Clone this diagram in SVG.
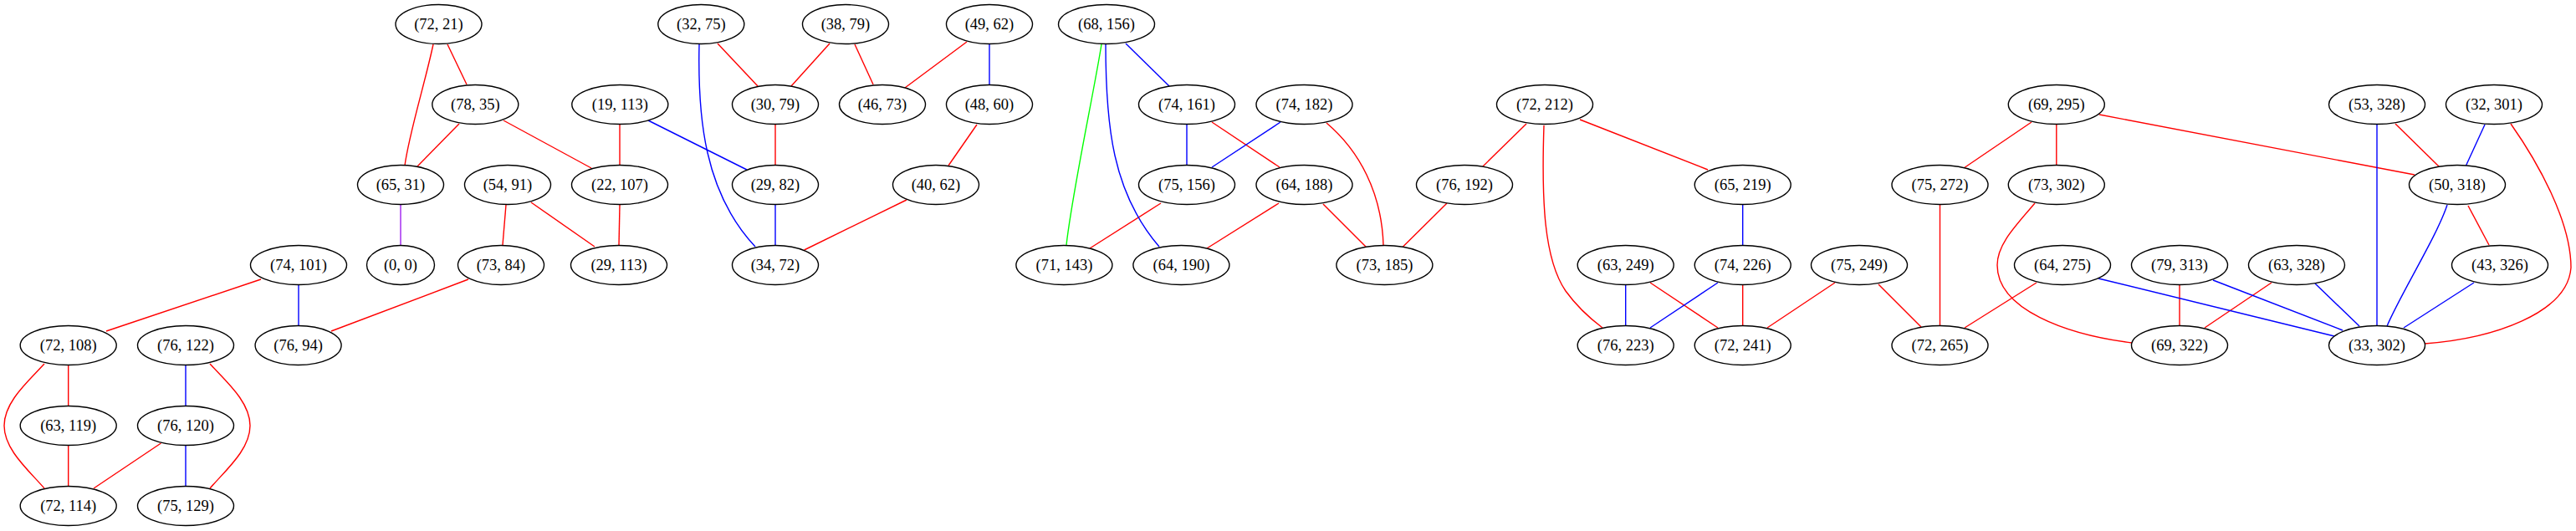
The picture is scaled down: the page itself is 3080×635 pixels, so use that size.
<svg xmlns="http://www.w3.org/2000/svg" width="3080" height="635" viewBox="0 0 3080 635">
<style>
.n ellipse{fill:#fff;stroke:#000;stroke-width:1.4}
.n text{font-family:"Liberation Serif","Times New Roman",serif;font-size:18.5px;text-anchor:middle;fill:#000}
#edges path{fill:none;stroke-width:1.4}
.r{stroke:#ff0000}.b{stroke:#0000ff}.g{stroke:#00ff00}.p{stroke:#a020f0}
</style>
<rect width="3080" height="635" fill="#fff"/>
<g id="edges">
<path class="r" d="M518,53 C508,100 489,160 484,198"/>
<path class="r" d="M535,53 L558,101"/>
<path class="r" d="M549,148 L499,199"/>
<path class="r" d="M602,144 L707,201"/>
<path class="r" d="M741,149 L741,197"/>
<path class="r" d="M605,245 L601,293"/>
<path class="r" d="M635,242 L711,295"/>
<path class="r" d="M741,245 L740,293"/>
<path class="r" d="M312,334 L127,396"/>
<path class="r" d="M560,334 L396,396"/>
<path class="r" d="M81.7,437 L81.7,485"/>
<path class="r" d="M53,435 C35,455 5,480 5,509 C5,538 35,563 53,584"/>
<path class="r" d="M81.7,533 L81.7,581"/>
<path class="r" d="M251,435 C269,455 299,480 299,509 C299,538 269,563 251,584"/>
<path class="r" d="M192.5,530 L112,584"/>
<path class="r" d="M858,52 L906,103"/>
<path class="r" d="M992,52 L946,103"/>
<path class="r" d="M1022,53 L1044,101"/>
<path class="r" d="M1156,50 L1082,105"/>
<path class="r" d="M927,149 L927,197"/>
<path class="r" d="M1168,149 L1134,198"/>
<path class="r" d="M1084,239 L961.5,299"/>
<path class="r" d="M1449,146 L1530,200"/>
<path class="r" d="M1388,243 L1303,297"/>
<path class="r" d="M1529,243 L1443,297"/>
<path class="r" d="M1586,147 C1625,180 1652,230 1654,293"/>
<path class="r" d="M1582,244 L1633,295"/>
<path class="r" d="M1730,243 L1677.5,295"/>
<path class="r" d="M1825,148 L1773,199"/>
<path class="r" d="M1846,150 C1843,240 1846,310 1872,348 C1885,366 1900,380 1916,392"/>
<path class="r" d="M1889,143 L2042,203"/>
<path class="r" d="M1973,338 L2054,392"/>
<path class="r" d="M2083.7,341 L2083.7,389"/>
<path class="r" d="M2194,338 L2113,392"/>
<path class="r" d="M2246,340 L2297,391"/>
<path class="r" d="M2429,146 L2348,201"/>
<path class="r" d="M2458.8,149 L2458.8,197"/>
<path class="r" d="M2510,137 L2887,209"/>
<path class="r" d="M2864,148 L2916,199"/>
<path class="r" d="M3002,148 C3035,195 3074,265 3074,320 C3070,375 2980,405 2899,411"/>
<path class="r" d="M2951,246 L2976,293"/>
<path class="r" d="M2433,243 C2410,270 2388,292 2388,317 C2388,370 2470,400 2549,410"/>
<path class="r" d="M2319.5,245 L2319.5,389"/>
<path class="r" d="M2435,338 L2349,392"/>
<path class="r" d="M2606,341 L2606,389"/>
<path class="r" d="M2716,338 L2636,392"/>
<path class="b" d="M357,341 L357,389"/>
<path class="b" d="M222,437 L222,485"/>
<path class="b" d="M222,533 L222,581"/>
<path class="b" d="M775,144 L893,203"/>
<path class="b" d="M836,53 C834,140 842,230 903,295"/>
<path class="b" d="M1183,53 L1183,101"/>
<path class="b" d="M927,245 L927,293"/>
<path class="b" d="M1322,53 C1322,150 1330,230 1386,295"/>
<path class="b" d="M1346,52 L1398,103"/>
<path class="b" d="M1419,149 L1419,197"/>
<path class="b" d="M1531,146 L1449,200"/>
<path class="b" d="M2083.7,245 L2083.7,293"/>
<path class="b" d="M1943.7,341 L1943.7,389"/>
<path class="b" d="M2054,338 L1973,392"/>
<path class="b" d="M2842,149 L2842,389"/>
<path class="b" d="M2971,149 L2948.5,198"/>
<path class="b" d="M2926,245 C2914,282 2870,352 2854,390"/>
<path class="b" d="M2509,333 L2791,402"/>
<path class="b" d="M2646,335 L2801,395"/>
<path class="b" d="M2768,339 L2821,390"/>
<path class="b" d="M2958,338 L2874,392"/>
<path class="g" d="M1317,53 C1308,110 1282,230 1275,293"/>
<path class="p" d="M479,245 L479,293"/>
</g>
<g id="n72_21" class="n"><ellipse cx="524.5" cy="29" rx="51.5" ry="23.5"/><text x="524.5" y="35">(72, 21)</text></g>
<g id="n78_35" class="n"><ellipse cx="568.3" cy="125" rx="51.5" ry="23.5"/><text x="568.3" y="131">(78, 35)</text></g>
<g id="n19_113" class="n"><ellipse cx="741.3" cy="125" rx="57.5" ry="23.5"/><text x="741.3" y="131">(19, 113)</text></g>
<g id="n65_31" class="n"><ellipse cx="479" cy="221" rx="51.5" ry="23.5"/><text x="479" y="227">(65, 31)</text></g>
<g id="n54_91" class="n"><ellipse cx="607" cy="221" rx="51.5" ry="23.5"/><text x="607" y="227">(54, 91)</text></g>
<g id="n22_107" class="n"><ellipse cx="741" cy="221" rx="57.5" ry="23.5"/><text x="741" y="227">(22, 107)</text></g>
<g id="n74_101" class="n"><ellipse cx="357" cy="317" rx="57.5" ry="23.5"/><text x="357" y="323">(74, 101)</text></g>
<g id="n0_0" class="n"><ellipse cx="479" cy="317" rx="40.5" ry="23.5"/><text x="479" y="323">(0, 0)</text></g>
<g id="n73_84" class="n"><ellipse cx="599" cy="317" rx="51.5" ry="23.5"/><text x="599" y="323">(73, 84)</text></g>
<g id="n29_113" class="n"><ellipse cx="740" cy="317" rx="57.5" ry="23.5"/><text x="740" y="323">(29, 113)</text></g>
<g id="n72_108" class="n"><ellipse cx="81.7" cy="413" rx="57.5" ry="23.5"/><text x="81.7" y="419">(72, 108)</text></g>
<g id="n76_122" class="n"><ellipse cx="222" cy="413" rx="57.5" ry="23.5"/><text x="222" y="419">(76, 122)</text></g>
<g id="n76_94" class="n"><ellipse cx="356.6" cy="413" rx="51.5" ry="23.5"/><text x="356.6" y="419">(76, 94)</text></g>
<g id="n63_119" class="n"><ellipse cx="81.7" cy="509" rx="57.5" ry="23.5"/><text x="81.7" y="515">(63, 119)</text></g>
<g id="n76_120" class="n"><ellipse cx="222" cy="509" rx="57.5" ry="23.5"/><text x="222" y="515">(76, 120)</text></g>
<g id="n72_114" class="n"><ellipse cx="81.7" cy="605" rx="57.5" ry="23.5"/><text x="81.7" y="611">(72, 114)</text></g>
<g id="n75_129" class="n"><ellipse cx="222" cy="605" rx="57.5" ry="23.5"/><text x="222" y="611">(75, 129)</text></g>
<g id="n32_75" class="n"><ellipse cx="838.3" cy="29" rx="51.5" ry="23.5"/><text x="838.3" y="35">(32, 75)</text></g>
<g id="n38_79" class="n"><ellipse cx="1011" cy="29" rx="51.5" ry="23.5"/><text x="1011" y="35">(38, 79)</text></g>
<g id="n49_62" class="n"><ellipse cx="1183" cy="29" rx="51.5" ry="23.5"/><text x="1183" y="35">(49, 62)</text></g>
<g id="n68_156" class="n"><ellipse cx="1323" cy="29" rx="57.5" ry="23.5"/><text x="1323" y="35">(68, 156)</text></g>
<g id="n30_79" class="n"><ellipse cx="927" cy="125" rx="51.5" ry="23.5"/><text x="927" y="131">(30, 79)</text></g>
<g id="n46_73" class="n"><ellipse cx="1055" cy="125" rx="51.5" ry="23.5"/><text x="1055" y="131">(46, 73)</text></g>
<g id="n48_60" class="n"><ellipse cx="1183" cy="125" rx="51.5" ry="23.5"/><text x="1183" y="131">(48, 60)</text></g>
<g id="n74_161" class="n"><ellipse cx="1419" cy="125" rx="57.5" ry="23.5"/><text x="1419" y="131">(74, 161)</text></g>
<g id="n74_182" class="n"><ellipse cx="1559.5" cy="125" rx="57.5" ry="23.5"/><text x="1559.5" y="131">(74, 182)</text></g>
<g id="n29_82" class="n"><ellipse cx="927" cy="221" rx="51.5" ry="23.5"/><text x="927" y="227">(29, 82)</text></g>
<g id="n40_62" class="n"><ellipse cx="1119" cy="221" rx="51.5" ry="23.5"/><text x="1119" y="227">(40, 62)</text></g>
<g id="n75_156" class="n"><ellipse cx="1419" cy="221" rx="57.5" ry="23.5"/><text x="1419" y="227">(75, 156)</text></g>
<g id="n64_188" class="n"><ellipse cx="1559.5" cy="221" rx="57.5" ry="23.5"/><text x="1559.5" y="227">(64, 188)</text></g>
<g id="n34_72" class="n"><ellipse cx="927" cy="317" rx="51.5" ry="23.5"/><text x="927" y="323">(34, 72)</text></g>
<g id="n71_143" class="n"><ellipse cx="1272.4" cy="317" rx="57.5" ry="23.5"/><text x="1272.4" y="323">(71, 143)</text></g>
<g id="n64_190" class="n"><ellipse cx="1412.4" cy="317" rx="57.5" ry="23.5"/><text x="1412.4" y="323">(64, 190)</text></g>
<g id="n73_185" class="n"><ellipse cx="1655.4" cy="317" rx="57.5" ry="23.5"/><text x="1655.4" y="323">(73, 185)</text></g>
<g id="n72_212" class="n"><ellipse cx="1847" cy="125" rx="57.5" ry="23.5"/><text x="1847" y="131">(72, 212)</text></g>
<g id="n76_192" class="n"><ellipse cx="1751" cy="221" rx="57.5" ry="23.5"/><text x="1751" y="227">(76, 192)</text></g>
<g id="n65_219" class="n"><ellipse cx="2083.7" cy="221" rx="57.5" ry="23.5"/><text x="2083.7" y="227">(65, 219)</text></g>
<g id="n63_249" class="n"><ellipse cx="1943.7" cy="317" rx="57.5" ry="23.5"/><text x="1943.7" y="323">(63, 249)</text></g>
<g id="n74_226" class="n"><ellipse cx="2083.7" cy="317" rx="57.5" ry="23.5"/><text x="2083.7" y="323">(74, 226)</text></g>
<g id="n75_249" class="n"><ellipse cx="2223" cy="317" rx="57.5" ry="23.5"/><text x="2223" y="323">(75, 249)</text></g>
<g id="n76_223" class="n"><ellipse cx="1943.7" cy="413" rx="57.5" ry="23.5"/><text x="1943.7" y="419">(76, 223)</text></g>
<g id="n72_241" class="n"><ellipse cx="2083.7" cy="413" rx="57.5" ry="23.5"/><text x="2083.7" y="419">(72, 241)</text></g>
<g id="n75_272" class="n"><ellipse cx="2319.5" cy="221" rx="57.5" ry="23.5"/><text x="2319.5" y="227">(75, 272)</text></g>
<g id="n72_265" class="n"><ellipse cx="2319.5" cy="413" rx="57.5" ry="23.5"/><text x="2319.5" y="419">(72, 265)</text></g>
<g id="n69_295" class="n"><ellipse cx="2458.8" cy="125" rx="57.5" ry="23.5"/><text x="2458.8" y="131">(69, 295)</text></g>
<g id="n53_328" class="n"><ellipse cx="2842" cy="125" rx="57.5" ry="23.5"/><text x="2842" y="131">(53, 328)</text></g>
<g id="n32_301" class="n"><ellipse cx="2982" cy="125" rx="57.5" ry="23.5"/><text x="2982" y="131">(32, 301)</text></g>
<g id="n73_302" class="n"><ellipse cx="2458.8" cy="221" rx="57.5" ry="23.5"/><text x="2458.8" y="227">(73, 302)</text></g>
<g id="n50_318" class="n"><ellipse cx="2938" cy="221" rx="57.5" ry="23.5"/><text x="2938" y="227">(50, 318)</text></g>
<g id="n64_275" class="n"><ellipse cx="2466" cy="317" rx="57.5" ry="23.5"/><text x="2466" y="323">(64, 275)</text></g>
<g id="n79_313" class="n"><ellipse cx="2606" cy="317" rx="57.5" ry="23.5"/><text x="2606" y="323">(79, 313)</text></g>
<g id="n63_328" class="n"><ellipse cx="2746" cy="317" rx="57.5" ry="23.5"/><text x="2746" y="323">(63, 328)</text></g>
<g id="n43_326" class="n"><ellipse cx="2989" cy="317" rx="57.5" ry="23.5"/><text x="2989" y="323">(43, 326)</text></g>
<g id="n69_322" class="n"><ellipse cx="2606" cy="413" rx="57.5" ry="23.5"/><text x="2606" y="419">(69, 322)</text></g>
<g id="n33_302" class="n"><ellipse cx="2842" cy="413" rx="57.5" ry="23.5"/><text x="2842" y="419">(33, 302)</text></g>
</svg>
